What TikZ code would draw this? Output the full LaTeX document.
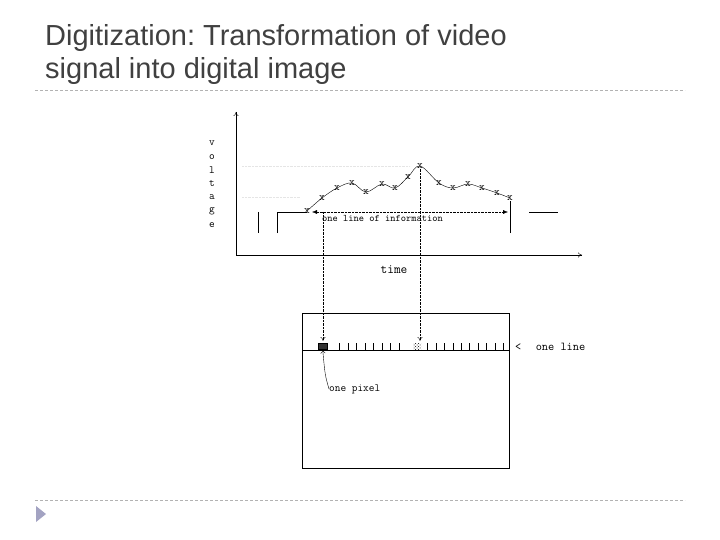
\documentclass[tikz,border=0pt]{standalone}
\usepackage{fontspec}
\setmainfont{Liberation Sans}
\usetikzlibrary{arrows.meta,patterns}

\begin{document}
\frenchspacing
\begin{tikzpicture}[x=1pt,y=-1pt,
  rule/.style={draw=gray!60,dash pattern=on 3pt off 2pt},
  heading/.style={anchor=base west,inner sep=0pt,text=black!75,
    font=\fontsize{29}{33}\selectfont},
  axis/.style={-{To[length=4pt,width=5pt]}},
  guide/.style={densely dotted},
  ghost/.style={draw=gray!20,densely dotted},
  lab/.style={inner sep=0pt,font=\ttfamily\fontsize{11}{12}\selectfont},
  smp/.style={inner sep=0pt,font=\ttfamily\fontsize{11}{11}\selectfont}]
  \useasboundingbox (0,0) rectangle (720,540);

  % title and slide rules
  \node[heading] (title1) at (45,46) {Digitization: Transformation of video};
  \node[heading] (title2) at (45,79) {signal into digital image};
  \draw[rule] (35,90) -- (685,90);
  \draw[rule] (35,500) -- (685,500);
  \fill[blue!20!gray!60] (36,506) -- (46,514) -- (36,522) -- cycle;

  % axes
  \coordinate (O) at (236,255);
  \coordinate (ytop) at (236,112);
  \coordinate (xend) at (582,255);
  \draw[axis] (O) -- (ytop);
  \draw[axis] (O) -- (xend);
  \foreach \c [count=\i] in {v,o,l,t,a,g,e}
    \node[lab] (v\i) at (212,129.5+13.6*\i) {\c};
  \node[lab,font=\ttfamily\fontsize{13}{13}\selectfont] (time) at (394,270) {time};
  \draw[ghost] (242,166) -- (410,166);
  \draw[ghost] (242,197) -- (300,197);

  % video signal
  \draw (258,212) -- (258,233);
  \draw (277,233) -- (277,212) -- (307,212);
  \draw plot[smooth,tension=0.6] coordinates {(307,211) (322,198) (337,188)
    (352,183) (366,192) (382,184) (395,188) (408,177) (420,166) (439,183)
    (453,188) (468,184) (482,188) (497,193) (510,198)};
  \foreach \p [count=\i] in {(307,211),(322,198),(337,188),(352,183),
      (366,192),(382,184),(395,188),(408,177),(420,166),(439,183),
      (453,188),(468,184),(482,188),(497,193),(510,198)}
    \node[smp] (s\i) at \p {x};
  \draw (510,233) -- (s15);
  \draw (529,212) -- (558,212);

  % one line of information
  \coordinate (infoL) at (312,212);
  \coordinate (infoR) at (508,212);
  \draw[guide,{Latex[length=5pt,width=4pt]}-{Latex[length=5pt,width=4pt]}]
    (infoL) -- (infoR);
  \node[lab,font=\ttfamily\fontsize{10}{10}\selectfont,anchor=north west]
    (info) at (322,215) {one line of information};

  % image frame
  \draw (302,313) rectangle (509,468);
  \draw (302,350) -- (509,350);
  \foreach \x in {339.3,347.8,...,400}
    \draw (\x,343) -- (\x,350);
  \foreach \x in {427.5,435.9,...,505}
    \draw (\x,343) -- (\x,350);
  \node[draw,fill=black!80,pattern color=white,minimum width=9pt,
    minimum height=6pt,inner sep=0pt,anchor=south west] (pix) at (318,349.5) {};
  \fill[pattern=crosshatch dots,pattern color=black]
    (413,343) rectangle (421,349.5);
  \coordinate (top1) at (323,212);
  \draw[guide,-{To[length=4pt,width=5pt]}] (top1) -- (323,341);
  \draw[guide,-{To[length=4pt,width=5pt]}] (s9) -- (420,341);

  \node[lab,font=\ttfamily\fontsize{12}{12}\selectfont,anchor=west]
    (line) at (515,347) {<\hspace{1.2em}one line};
  \node[lab,anchor=west] (pixtxt) at (329,389) {one pixel};
  \draw[-{To[length=4pt,width=5pt]}] (pixtxt.west) .. controls (325,375) .. (pix.south);
\end{tikzpicture}
\end{document}
